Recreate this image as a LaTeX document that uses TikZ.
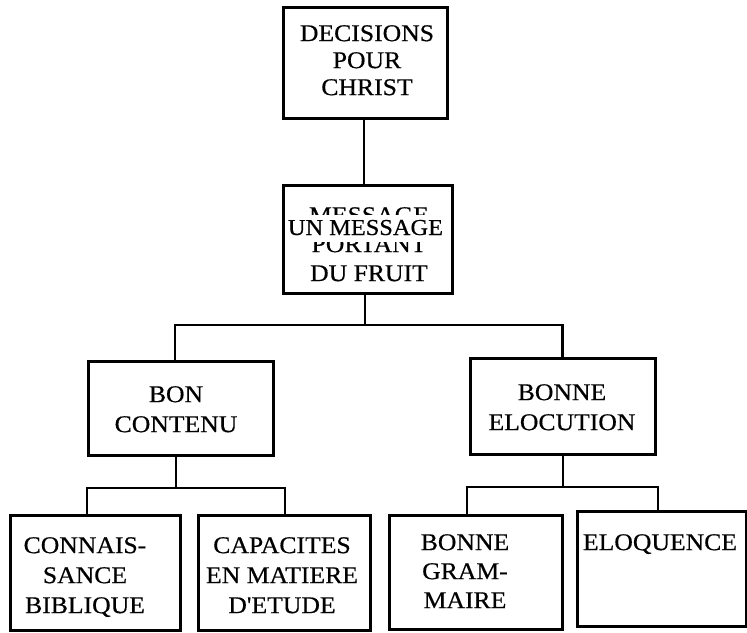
\documentclass[tikz,border=0pt]{standalone}
\usepackage{fontspec}
\setmainfont{Liberation Serif}[FakeStretch=1.07,FakeBold=0.5]
\newfontfamily\plainq{Liberation Serif}[FakeStretch=1.07,FakeBold=0.5]
\tikzset{
  box/.style={draw, line width=3pt, inner sep=0pt, outer sep=0pt},
  lbl/.style={align=center, anchor=north, inner sep=0pt, font=\fontsize{24}{30}\selectfont},
  conn/.style={line width=2.8pt}
}
\begin{document}
\begin{tikzpicture}[x=1pt,y=-1pt]
\useasboundingbox (0,0) rectangle (747,632);
% boxes
\node[box, minimum width=164pt, minimum height=111pt] (top) at (365,62.5) {};
\node[box, minimum width=169pt, minimum height=108pt] (msg) at (367.5,239) {};
\node[box, minimum width=185pt, minimum height=94pt] (bon) at (180.5,408) {};
\node[box, minimum width=185pt, minimum height=96pt] (elo) at (562.5,406) {};
\node[box, minimum width=170pt, minimum height=115pt] (b1) at (95,572.5) {};
\node[box, minimum width=172pt, minimum height=115pt] (b2) at (284,572.5) {};
\node[box, minimum width=173pt, minimum height=114pt] (b3) at (475.5,572) {};
\node[box, minimum width=169pt, minimum height=115pt] (b4) at (661.5,568.5) {};
% texts
\node[lbl, font=\fontsize{24}{27}\selectfont] (ttop) at (367,25) {DECISIONS\\POUR\\CHRIST};
\node[lbl, font=\fontsize{24}{29}\selectfont] (tmsg) at (369,207) {MESSAGE\\PORTANT\\DU FRUIT};
\node[fill=white, inner xsep=1pt, inner ysep=0pt, text height=20pt, text depth=7pt, anchor=base,
      font=\fontsize{22.8}{28}\selectfont] (tun) at (365.5,235) {UN MESSAGE};
\node[lbl] (tbon) at (176,386) {BON\\CONTENU};
\node[lbl] (telo) at (562,384) {BONNE\\ELOCUTION};
\node[lbl] (tb1) at (85,537) {CONNAIS-\\SANCE\\BIBLIQUE};
\node[lbl] (tb2) at (282,537) {CAPACITES\\EN MATIERE\\{\plainq D'ETUDE}};
\node[lbl, font=\fontsize{24}{29}\selectfont] (tb3) at (465,534) {BONNE\\GRAM-\\MAIRE};
\node[lbl] (tb4) at (660,534) {ELOQUENCE};
% connectors
\draw[conn] ([xshift=-1pt]top.south) -- ([xshift=-1pt]top.south |- msg.north);
\coordinate (j1) at (365,325);
\draw[conn] (j1 |- msg.south) -- (j1);
\draw[conn] ([xshift=-5.5pt]bon.north) |- (j1) -| (elo.north);
\coordinate (j2) at (176,488);
\draw[conn] (j2 |- bon.south) -- (j2);
\draw[conn] ([xshift=-8pt]b1.north) |- (j2) -| ([xshift=1pt]b2.north);
\coordinate (j3) at (563,487);
\draw[conn] (j3 |- elo.south) -- (j3);
\draw[conn] ([xshift=-8.5pt]b3.north) |- (j3) -| ([xshift=-3.5pt]b4.north);
\end{tikzpicture}
\end{document}
